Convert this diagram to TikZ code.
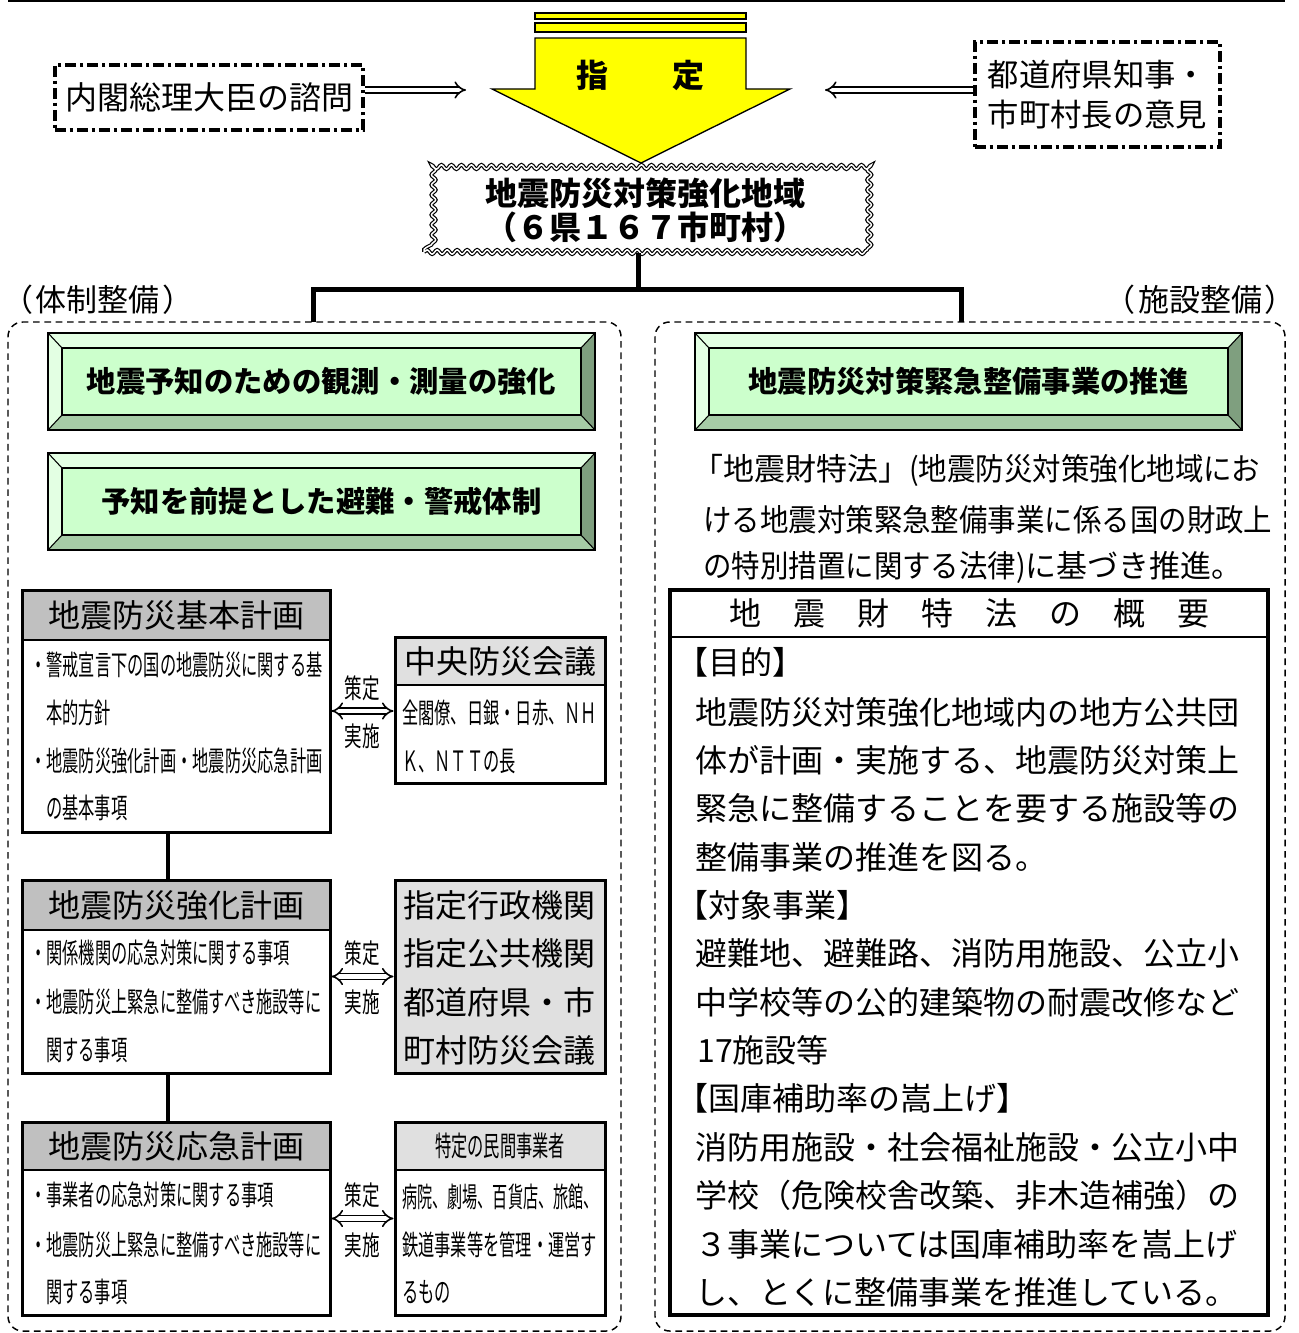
\documentclass[tikz,border=0pt]{standalone}
\usepackage{fontspec}
\setmainfont{Noto Sans CJK JP}
\newfontfamily\jp{Noto Sans CJK JP}
\newfontfamily\jpc[FakeStretch=0.58]{Noto Sans CJK JP}
\newfontfamily\jpd[FakeStretch=0.54]{Noto Sans CJK JP}
\newfontfamily\jpl[FakeStretch=0.65]{Noto Sans CJK JP}
\newfontfamily\jpn[FakeStretch=0.92]{Noto Sans CJK JP}
\usetikzlibrary{arrows.meta,decorations.pathmorphing,calc,fit}
\definecolor{gface}{HTML}{CCFFCC}
\definecolor{glight}{HTML}{E3FFE3}
\definecolor{gdark}{HTML}{7F9F7F}
\definecolor{gmid}{HTML}{A6CCA6}
\definecolor{hgray}{HTML}{C0C0C0}
\definecolor{lgray}{HTML}{E0E0E0}
\definecolor{ayellow}{HTML}{FFFF00}
\newcommand\bevelbox[6]{%
  \fill[glight] (#2,#3) rectangle (#4,#5);
  \fill[gdark] (#4,#3) -- (#4,#5) -- ({#4-14},{#5-15}) -- ({#4-14},{#3+15}) -- cycle;
  \fill[gmid] (#2,#5) -- (#4,#5) -- ({#4-14},{#5-15}) -- ({#2+14},{#5-15}) -- cycle;
  \filldraw[fill=gface, line width=0.9pt] ({#2+14},{#3+15}) rectangle ({#4-14},{#5-15});
  \draw[line width=0.8pt] (#2,#3) -- ({#2+14},{#3+15}) (#4,#3) -- ({#4-14},{#3+15})
     (#2,#5) -- ({#2+14},{#5-15}) (#4,#5) -- ({#4-14},{#5-15});
  \draw[line width=1.1pt] (#2,#3) rectangle (#4,#5);
  \node[gtext] (#1) at ({(#2+#4)/2},{(#3+#5)/2}) {#6};
}
\begin{document}
\begin{tikzpicture}[x=0.75pt,y=-0.75pt,
  every node/.style={inner sep=0pt},
  tx/.style={anchor=west},
  f24/.style={font=\jp\fontsize{24}{24}\selectfont},
  f23/.style={font=\jp\fontsize{23.25}{24}\selectfont},
  b24/.style={font=\jp\bfseries\fontsize{24}{24}\selectfont},
  gtext/.style={font=\jp\bfseries\fontsize{22}{22}\selectfont},
  c21/.style={font=\jpc\fontsize{21}{21}\selectfont},
  d21/.style={font=\jpd\fontsize{21}{21}\selectfont},
  l20/.style={font=\jpl\fontsize{20.25}{20}\selectfont},
  n23/.style={font=\jpn\fontsize{23.2}{24}\selectfont},
  dashdot/.style={draw, line width=2.5pt, dash pattern=on 8pt off 3pt on 2.5pt off 3pt},
  wave/.style={draw, line width=0.9pt, double=white, double distance=1.1pt,
     decorate, decoration={snake, segment length=7.5pt, amplitude=1.6pt}},
  dbl/.style={double, double distance=3.2pt, line width=1.2pt},
  trunk/.style={line width=3.75pt, line join=miter},
  conn/.style={line width=3pt},
  panel/.style={draw, line width=1.1pt, dash pattern=on 5pt off 3.5pt, rounded corners=11pt},
  pbox/.style={draw, line width=2.25pt}
]
\useasboundingbox (0,0) rectangle (1298,1333);
\fill[white] (0,0) rectangle (1298,1333);
\draw[line width=1.5pt] (8,1.5) -- (1285,1.5);

% yellow arrow
\filldraw[fill=ayellow, line width=0.9pt] (535,13) rectangle (746,19);
\filldraw[fill=ayellow, line width=0.9pt] (535,23) rectangle (746,32);
\filldraw[fill=ayellow, line width=1pt, line join=miter] (535,38) -- (746,38) -- (746,89) -- (790,89) -- (641,163) -- (492,89) -- (535,89) -- cycle;
\node[b24] (shi) at (592,75) {指};
\node[b24] (tei) at (688,75) {定};

% side boxes
\node[dashdot, f24, minimum width=231pt, minimum height=48.75pt] (lq) at (209,97.5) {内閣総理大臣の諮問};
\node[dashdot, minimum width=183.75pt, minimum height=78.75pt, align=center,
  font=\jp\fontsize{23.5}{30}\selectfont] (rq) at (1097.5,94.5) {都道府県知事・\\市町村長の意見};
\coordinate (lqe) at (466,90);
\coordinate (rqe) at (825,90);
\draw[dbl,-{Implies}] (lq.east |- lqe) -- (lqe);
\draw[dbl,-{Implies}] (rq.west |- rqe) -- (rqe);

% zone
\node[wave, minimum width=331.5pt, minimum height=63pt, align=center,
  font=\jp\bfseries\fontsize{24}{25.5}\selectfont] (zone) at (645,210) {地震防災対策強化地域\\（６県１６７市町村）};

% labels
\node[f23, anchor=west] (lt) at (2,300) {（\hspace{2pt}体制整備\hspace{2pt}）};
\node[f23, anchor=east] (rt) at (1296,300) {（\hspace{2pt}施設整備\hspace{2pt}）};

% panels
\node[panel, fit={(8,322)(621,1331)}] (lp) {};
\node[panel, fit={(655,322)(1285,1331)}] (rp) {};

% trunk
\coordinate (jt) at (638,290);
\coordinate (jl) at (313,322);
\coordinate (jr) at (961,322);
\draw[trunk] (zone.south -| jt) -- (jt) -| (jl);
\draw[trunk] (jt) -| (jr);

% green bevel boxes
\bevelbox{g1}{48}{333}{595}{430}{地震予知のための観測・測量の強化}
\bevelbox{g2}{48}{453}{595}{550}{予知を前提とした避難・警戒体制}
\bevelbox{g3}{695}{333}{1242}{430}{地震防災対策緊急整備事業の推進}

% plan A
\fill[hgray] (22,590) rectangle (330,640);
\draw[line width=1.5pt] (22,640) -- (330,640);
\node[pbox, fit={(22,590)(330,832)}] (pA) {};
\node[f24] (pAh) at (176,615) {地震防災基本計画};
\node[c21, tx] (pA1) at (30,665) {・警戒宣言下の国の地震防災に関する基};
\node[c21, tx] (pA2) at (46,713) {本的方針};
\node[c21, tx] (pA3) at (30,761) {・地震防災強化計画・地震防災応急計画};
\node[c21, tx] (pA4) at (46,808) {の基本事項};

% plan B
\fill[hgray] (22,880) rectangle (330,930);
\draw[line width=1.5pt] (22,930) -- (330,930);
\node[pbox, fit={(22,880)(330,1073)}] (pB) {};
\node[f24] (pBh) at (176,905) {地震防災強化計画};
\node[c21, tx] (pB1) at (30,953) {・関係機関の応急対策に関する事項};
\node[c21, tx] (pB2) at (30,1002) {・地震防災上緊急に整備すべき施設等に};
\node[c21, tx] (pB3) at (46,1050) {関する事項};

% plan C
\fill[hgray] (22,1122) rectangle (330,1170);
\draw[line width=1.5pt] (22,1170) -- (330,1170);
\node[pbox, fit={(22,1122)(330,1315)}] (pC) {};
\node[f24] (pCh) at (176,1146) {地震防災応急計画};
\node[c21, tx] (pC1) at (30,1195) {・事業者の応急対策に関する事項};
\node[c21, tx] (pC2) at (30,1245) {・地震防災上緊急に整備すべき施設等に};
\node[c21, tx] (pC3) at (46,1292) {関する事項};

\coordinate (cx) at (168,0);
\draw[conn] (pA.south -| cx) -- (pB.north -| cx);
\draw[conn] (pB.south -| cx) -- (pC.north -| cx);

% D
\fill[lgray] (395,637) rectangle (605,685);
\draw[line width=1.5pt] (395,685) -- (605,685);
\node[pbox, fit={(395,637)(605,783)}] (pD) {};
\node[f24] (pDh) at (500,661) {中央防災会議};
\node[c21, tx] (pD1) at (402,713) {全閣僚、日銀・日赤、ＮＨ};
\node[c21, tx] (pD2) at (402,761) {Ｋ、ＮＴＴの長};

% E
\node[pbox, fill=lgray, fit={(395,880)(605,1073)}] (pE) {};
\node[f24, tx] (pE1) at (403,905) {指定行政機関};
\node[f24, tx] (pE2) at (403,953) {指定公共機関};
\node[f24, tx] (pE3) at (403,1002) {都道府県・市};
\node[f24, tx] (pE4) at (403,1050) {町村防災会議};

% F
\fill[lgray] (395,1122) rectangle (605,1170);
\draw[line width=1.5pt] (395,1170) -- (605,1170);
\node[pbox, fit={(395,1122)(605,1315)}] (pF) {};
\node[c21] (pFh) at (500,1146) {特定の民間事業者};
\node[d21, tx] (pF1) at (402,1197) {病院、劇場、百貨店、旅館、};
\node[c21, tx] (pF2) at (402,1245) {鉄道事業等を管理・運営す};
\node[c21, tx] (pF3) at (402,1292) {るもの};

% double arrows
\draw[dbl,{Implies}-{Implies}] (pA.east) -- (pA.east -| pD.west);
\draw[dbl,{Implies}-{Implies}] (pB.east) -- (pB.east -| pE.west);
\draw[dbl,{Implies}-{Implies}] (pC.east) -- (pC.east -| pF.west);
\node[l20] (s1) at (362,688) {策定};
\node[l20] (j1) at (362,736) {実施};
\node[l20] (s2) at (362,953) {策定};
\node[l20] (j2) at (362,1002) {実施};
\node[l20] (s3) at (362,1195) {策定};
\node[l20] (j3) at (362,1245) {実施};

% right text
\node[tx] (r1) at (692,470) {{\jp\fontsize{23.25}{24}\selectfont 「地震財特法」}{\jpn\fontsize{23.2}{24}\selectfont (地震防災対策強化地域にお}};
\node[n23, tx] (r2) at (703,520) {ける地震対策緊急整備事業に係る国の財政上};
\node[tx] (r3) at (703,567) {{\jpn\fontsize{23.2}{24}\selectfont の特別措置に関する法律)}{\jp\fontsize{23.25}{24}\selectfont に基づき推進。}};

% overview box
\node[pbox, line width=3pt, fit={(670,590)(1268,1315)}] (ov) {};
\draw[line width=1.5pt] (670,637) -- (1268,637);
\node[f24] (ovh) at (969,613) {地　震　財　特　法　の　概　要};
\node[f24, tx] (o1) at (676,662) {【目的】};
\node[f24, tx] (o2) at (695,712) {地震防災対策強化地域内の地方公共団};
\node[f24, tx] (o3) at (695,760) {体が計画・実施する、地震防災対策上};
\node[f24, tx] (o4) at (695,808) {緊急に整備することを要する施設等の};
\node[f24, tx] (o5) at (695,857) {整備事業の推進を図る。};
\node[f24, tx] (o6) at (676,905) {【対象事業】};
\node[f24, tx] (o7) at (695,953) {避難地、避難路、消防用施設、公立小};
\node[f24, tx] (o8) at (695,1002) {中学校等の公的建築物の耐震改修など};
\node[f24, tx] (o9) at (697,1050) {17施設等};
\node[f24, tx] (o10) at (676,1098) {【国庫補助率の嵩上げ】};
\node[f24, tx] (o11) at (695,1147) {消防用施設・社会福祉施設・公立小中};
\node[f24, tx] (o12) at (695,1195) {学校（危険校舎改築、非木造補強）の};
\node[f24, tx] (o13) at (695,1244) {３事業については国庫補助率を嵩上げ};
\node[f24, tx] (o14) at (695,1292) {し、とくに整備事業を推進している。};
\end{tikzpicture}
\end{document}
